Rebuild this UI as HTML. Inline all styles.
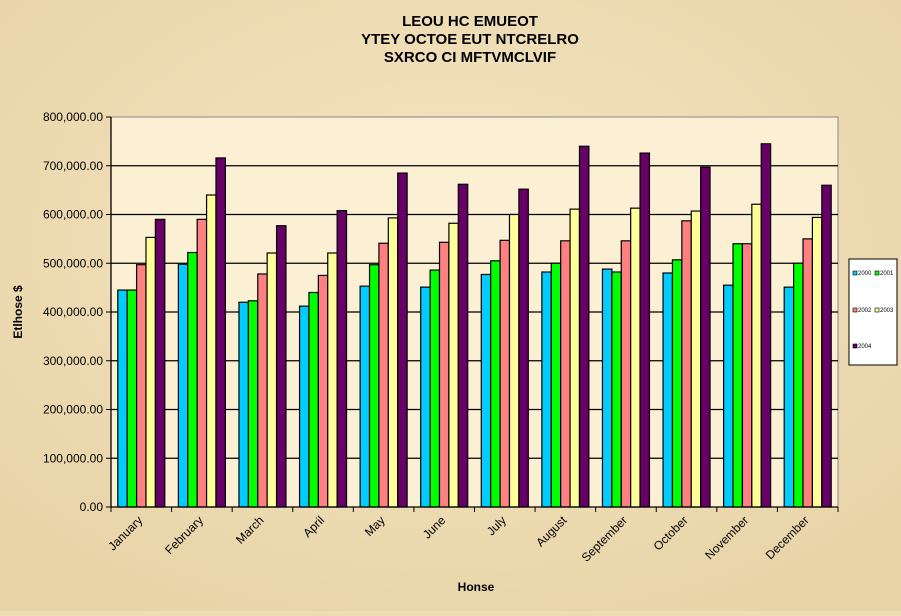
<!DOCTYPE html>
<html><head><meta charset="utf-8"><style>
body{margin:0;width:901px;height:611px;overflow:hidden;background:#efdcb2;font-family:"Liberation Sans",sans-serif}
</style></head><body>
<svg id="c" width="901" height="611" xmlns="http://www.w3.org/2000/svg">
<defs><radialGradient id="bg" cx="50%" cy="40%" r="70%"><stop offset="0" stop-color="#f5e6c4"/><stop offset="1" stop-color="#e8d3a6"/></radialGradient></defs>
<rect width="901" height="611" fill="url(#bg)"/>
</svg>
<script>
const categories=["January","February","March","April","May","June","July","August","September","October","November","December"];
const seriesNames=["2000","2001","2002","2003","2004"];
const s2000=[445,498,420,412,453,451,477,482,488,480,455,451];
const s2001=[445,522,423,440,497,486,505,500,482,507,540,500];
const s2002=[497,590,478,475,541,543,547,546,546,587,540,550];
const s2003=[553,640,521,521,593,582,600,611,613,607,621,594];
const s2004=[590,716,577,608,685,662,652,740,726,697,745,660];
const yTicks=[0,100,200,300,400,500,600,700,800];
const yTickLabels=["0.00","100,000.00","200,000.00","300,000.00","400,000.00","500,000.00","600,000.00","700,000.00","800,000.00"];
const series=[s2000,s2001,s2002,s2003,s2004];
const colors=["#00ccff","#00ff00","#ff8080","#ffff99","#660066"];
const svg=document.getElementById('c');const NS="http://www.w3.org/2000/svg";
const L=111,R=838,T=117,B=507;
const y=v=>B-(v/800)*(B-T);
const gw=(R-L)/categories.length;
function el(t,a,p){const e=document.createElementNS(NS,t);for(const k in a)e.setAttribute(k,a[k]);(p||svg).appendChild(e);return e;}
function tx(x,yy,s,a){const e=el('text',Object.assign({x:x,y:yy,'font-family':'Liberation Sans, sans-serif'},a));e.textContent=s;return e;}
const plot=el('rect',{x:L,y:T,width:R-L,height:B-T,fill:'#fbf0d4',stroke:'#888','stroke-width':1});


yTicks.forEach((v,i)=>{
 if(v>0&&v<800){const g=el('line',{x1:L,x2:R,y1:y(v),y2:y(v),stroke:'#000','stroke-width':1.3});
 
 }
 el('line',{x1:L-5,x2:L,y1:y(v),y2:y(v),stroke:'#000'});
 const t=tx(L-8,y(v)+4,yTickLabels[i],{'font-size':12,'text-anchor':'end',fill:'#000'});
 
 
});
const bw=9.4;
categories.forEach((c,i)=>{
 const x0=L+i*gw+(gw-5*bw)/2;
 series.forEach((s,j)=>{
  const r=el('rect',{x:x0+j*bw,y:y(s[i]),width:bw,height:B-y(s[i]),fill:colors[j],stroke:'#000','stroke-width':1.2});
  
  
 });
 const tk=L+i*gw;
 el('line',{x1:tk,x2:tk,y1:B,y2:B+5,stroke:'#000'});
 const cx=L+(i+0.5)*gw+2;
 const t=tx(cx,B+14,c,{'font-size':12,'text-anchor':'end',transform:`rotate(-45 ${cx} ${B+14})`,fill:'#000'});
 
 
});
el('line',{x1:R,x2:R,y1:B,y2:B+5,stroke:'#000'});
el('line',{x1:L,x2:R,y1:B,y2:B,stroke:'#000','stroke-width':1.3});
el('line',{x1:L,x2:L,y1:T,y2:B,stroke:'#000','stroke-width':1.3});
["LEOU HC EMUEOT","YTEY OCTOE EUT NTCRELRO","SXRCO CI MFTVMCLVIF"].forEach((s,i)=>{
 const t=tx(470,26+i*18,s,{'font-size':15,'font-weight':'bold','text-anchor':'middle'});
 
 
});
const xt=tx(476,591,'Honse',{'font-size':12,'font-weight':'bold','text-anchor':'middle'});


const yt=tx(22,312,'Etlhose $',{'font-size':12,'font-weight':'bold','text-anchor':'middle',transform:'rotate(-90 22 312)'});


const lg=el('rect',{x:849,y:259,width:48,height:106,fill:'#fff',stroke:'#000'});


const lp=[[853,275],[875,275],[853,312],[875,312],[853,348]];
seriesNames.forEach((n,j)=>{
 el('rect',{x:lp[j][0],y:lp[j][1]-4,width:4,height:4,fill:colors[j],stroke:'#000','stroke-width':0.6});
 const t=tx(lp[j][0]+5,lp[j][1],n,{'font-size':6,fill:'#000'});
 
 
});
</script>
</body></html>
